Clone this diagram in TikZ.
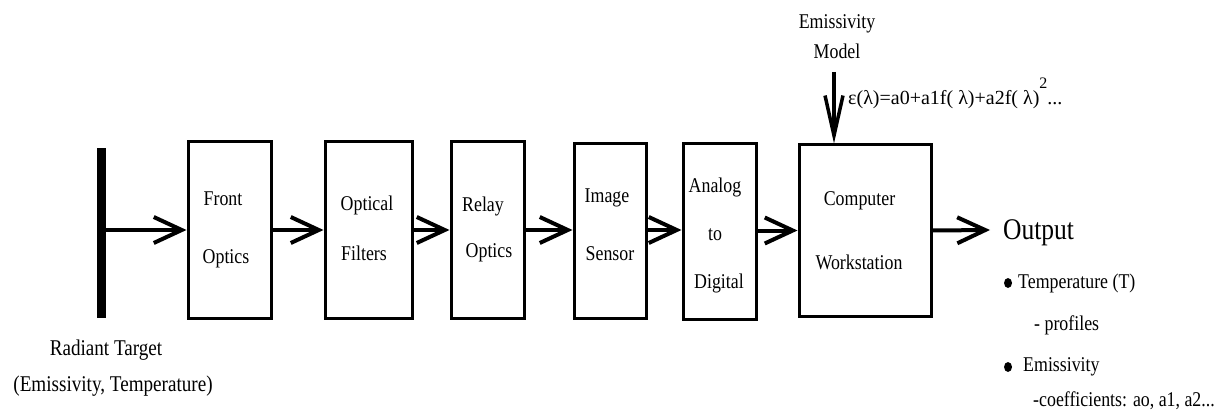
\documentclass[tikz,border=0pt]{standalone}
\usepackage{fontspec}
\usepackage{graphicx}
\setmainfont{Liberation Serif}
\newcommand{\nar}[1]{\scalebox{0.85}[1]{#1}}
\usetikzlibrary{arrows.meta}
\tikzset{
  blk/.style={draw, line width=3pt, inner sep=0pt},
  lbl/.style={inner sep=0pt, font=\fontsize{21}{24}\selectfont},
  arr/.style={line width=4pt, -{Straight Barb[length=28pt,width=26pt]}},
  arrdown/.style={line width=3.5pt, -{Straight Barb[length=40pt,width=18pt]}},
}
\begin{document}
\begin{tikzpicture}[x=1pt,y=-1pt]
\useasboundingbox (0,0) rectangle (1224,417);
% target bar
\node[fill=black, inner sep=0pt, minimum width=9pt, minimum height=170pt] (bar) at (101.5,233) {};
% blocks
\node[blk, minimum width=83pt, minimum height=176pt] (front) at (229.5,230) {};
\node[blk, minimum width=87pt, minimum height=176pt] (filt) at (368.5,230) {};
\node[blk, minimum width=73pt, minimum height=176pt] (relay) at (487.5,230) {};
\node[blk, minimum width=72pt, minimum height=174pt] (img) at (610,231) {};
\node[blk, minimum width=73pt, minimum height=175pt] (adc) at (719.5,231.5) {};
\node[blk, minimum width=132pt, minimum height=171pt] (comp) at (865,230.5) {};
% block labels
\node[lbl] (t1a) at (223,199) {\nar{Front}};
\node[lbl] (t1b) at (226,259) {\nar{Optics}};
\node[lbl] (t2a) at (367,205) {\nar{Optical}};
\node[lbl] (t2b) at (364,253) {\nar{Filters}};
\node[lbl] (t3a) at (483,206) {\nar{Relay}};
\node[lbl] (t3b) at (489,253) {\nar{Optics}};
\node[lbl] (t4a) at (607,198) {\nar{Image}};
\node[lbl] (t4b) at (610,254) {\nar{Sensor}};
\node[lbl] (t5a) at (715,187) {\nar{Analog}};
\node[lbl] (t5b) at (715,235) {\nar{to}};
\node[lbl] (t5c) at (719,283) {\nar{Digital}};
\node[lbl] (t6a) at (859.5,201) {\nar{Computer}};
\node[lbl] (t6b) at (859,262) {\nar{Workstation}};
% target labels
\node[lbl, font=\fontsize{22.5}{26}\selectfont] (rt1) at (106,350) {\nar{Radiant Target}};
\node[lbl, font=\fontsize{22.5}{26}\selectfont] (rt2) at (113,386) {\nar{(Emissivity, Temperature)}};
% emissivity model
\node[lbl] (em1) at (837,24) {\nar{Emissivity}};
\node[lbl] (em2) at (837,51) {\nar{Model}};
\coordinate (emtop) at (834,72);
\node[lbl, anchor=west, font=\fontsize{20}{24}\selectfont] (eq) at (848,93) {ε(λ)=a0+a1f(~λ)+a2f(~λ)\raisebox{16pt}{\fontsize{16}{20}\selectfont 2}...};
% output
\coordinate (outend) at (990,230);
\node[lbl, anchor=west, font=\fontsize{30}{34}\selectfont] (out) at (1003,233) {\nar{Output}};
\fill (1008,283) ellipse (4pt and 5pt);
\node[lbl, anchor=west] (o1) at (1018,283) {\nar{Temperature (T)}};
\node[lbl, anchor=west] (o2) at (1034,325) {\nar{- profiles}};
\fill (1008,367) ellipse (4pt and 5pt);
\node[lbl, anchor=west] (o3) at (1023,367) {\nar{Emissivity}};
\node[lbl, anchor=west] (o4) at (1033,401) {\nar{-coefficients: ao, a1, a2...}};
% connectors
\draw[arr] (bar.east |- front.west) -- (front.west);
\draw[arr] (front.east) -- (filt.west);
\draw[arr] (filt.east) -- (relay.west);
\draw[arr] (relay.east) -- (img.west |- relay.east);
\draw[arr] (img.east |- relay.east) -- (adc.west |- relay.east);
\draw[arr] (adc.east |- comp.west) -- (comp.west);
\draw[arr] (comp.east) -- (outend);
\draw[arrdown] (emtop) -- (emtop |- comp.north);
\end{tikzpicture}
\end{document}
